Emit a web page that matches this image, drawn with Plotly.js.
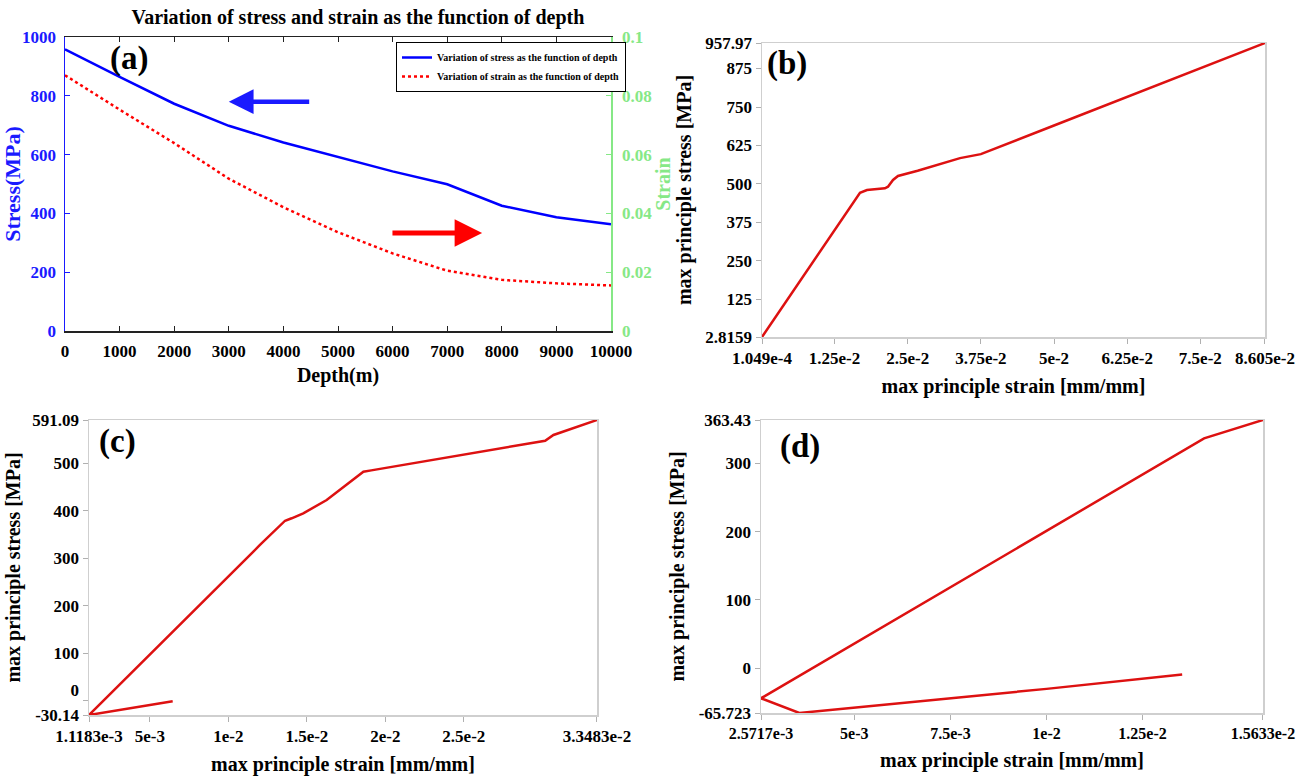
<!DOCTYPE html>
<html>
<head>
<meta charset="utf-8">
<script src="https://cdn.plot.ly/plotly-3.0.1.min.js"></script>
<style>html,body{margin:0;padding:0;background:#fff;}#chart{width:1300px;height:777px;}</style>
</head>
<body>
<div id="chart"></div>
<script>
// ---------- Panel (a): stress / strain vs depth ----------
const depth = [0, 1000, 2000, 3000, 4000, 5000, 6000, 7000, 8000, 9000, 10000];
const stressA = [957.97, 864, 773, 698, 641, 591.09, 543, 499, 426, 387, 363.43];
const strainA = [0.087, 0.0753, 0.0639, 0.0518, 0.0421, 0.0336, 0.0264, 0.0205, 0.0174, 0.0162, 0.0155];
const depthTicks = [0, 1000, 2000, 3000, 4000, 5000, 6000, 7000, 8000, 9000, 10000];
const depthTickText = ['0', '1000', '2000', '3000', '4000', '5000', '6000', '7000', '8000', '9000', '10000'];
const stressTicksA = [0, 200, 400, 600, 800, 1000];
const stressTickTextA = ['0', '200', '400', '600', '800', '1000'];
const strainTicksA = [0, 0.02, 0.04, 0.06, 0.08, 0.1];
const strainTickTextA = ['0', '0.02', '0.04', '0.06', '0.08', '0.1'];
const legendNames = ['Variation of stress as the function of depth', 'Variation of strain as the function of depth'];

// ---------- Panel (b) ----------
const strainB = [0.0001049, 0.01685, 0.01804, 0.0211, 0.02163, 0.02249, 0.02334, 0.0267, 0.03394, 0.0375, 0.05, 0.0625, 0.075, 0.08605];
const stressB = [2.8159, 471.6, 480.4, 486, 491, 513, 526, 543, 584, 597, 690, 783, 875, 957.97];
const xTickValsB = [0.0001049, 0.0125, 0.025, 0.0375, 0.05, 0.0625, 0.075, 0.08605];
const xTickTextB = ['1.049e-4', '1.25e-2', '2.5e-2', '3.75e-2', '5e-2', '6.25e-2', '7.5e-2', '8.605e-2'];
const yTickValsB = [2.8159, 125, 250, 375, 500, 625, 750, 875, 957.97];
const yTickTextB = ['2.8159', '125', '250', '375', '500', '625', '750', '875', '957.97'];

// ---------- Panel (c) ----------
const strainC = [0.00645, 0.0011183, 0.01201, 0.01361, 0.01403, 0.01477, 0.01626, 0.0186, 0.0191, 0.02858, 0.03018, 0.03071, 0.033483];
const stressC = [-1, -30.14, 327.9, 379.0, 384.1, 394.6, 422.6, 482, 485, 538.4, 547.5, 559.5, 591.09];
const xTickValsC = [0.0011183, 0.005, 0.01, 0.015, 0.02, 0.025, 0.033483];
const xTickTextC = ['1.1183e-3', '5e-3', '1e-2', '1.5e-2', '2e-2', '2.5e-2', '3.3483e-2'];
const yTickValsC = [-30.14, 0, 100, 200, 300, 400, 500, 591.09];
const yTickTextC = ['-30.14', '0<br> ', '100', '200', '300', '400', '500', '591.09'];

// ---------- Panel (d) ----------
const strainD = [0.01353, 0.0100, 0.00357, 0.0025717, 0.0100, 0.01337, 0.01401, 0.01410, 0.015633];
const stressD = [-9.5, -30.4, -65.723, -44.2, 201, 312.2, 334.1, 336.6, 363.43];
const xTickValsD = [0.0025717, 0.005, 0.0075, 0.01, 0.0125, 0.015633];
const xTickTextD = ['2.5717e-3', '5e-3', '7.5e-3', '1e-2', '1.25e-2', '1.5633e-2'];
const yTickValsD = [-65.723, 0, 100, 200, 300, 363.43];
const yTickTextD = ['-65.723', '0', '100', '200', '300', '363.43'];

const SERIF = '"Liberation Serif", "Times New Roman", Times, serif';
const RED = '#dd1111';
function bf(size, color) { return {family: SERIF, size: size, color: color || '#000', weight: 'bold'}; }

const W = 1300, H = 777;
function dx(a, b) { return [a / W, b / W]; }
function dy(top, bottom) { return [1 - bottom / H, 1 - top / H]; }
function padRange(vals) {
  const a = vals[0], b = vals[vals.length - 1], e = (b - a) * 1e-5;
  return [a - e, b + e];
}

const traces = [
  {x: depth, y: stressA, xaxis: 'x', yaxis: 'y', type: 'scatter', mode: 'lines',
   name: legendNames[0], line: {color: '#0000ff', width: 2.5}},
  {x: depth, y: strainA, xaxis: 'x', yaxis: 'y2', type: 'scatter', mode: 'lines',
   name: legendNames[1], line: {color: '#ff0000', width: 2.5, dash: 'dot'}},
  {x: strainB, y: stressB, xaxis: 'x3', yaxis: 'y3', type: 'scatter', mode: 'lines',
   showlegend: false, line: {color: RED, width: 2.5}},
  {x: strainC, y: stressC, xaxis: 'x4', yaxis: 'y4', type: 'scatter', mode: 'lines',
   showlegend: false, line: {color: RED, width: 2.5}},
  {x: strainD, y: stressD, xaxis: 'x5', yaxis: 'y5', type: 'scatter', mode: 'lines',
   showlegend: false, line: {color: RED, width: 2.5}}
];

function gx(domain, anchor, vals, text, titleText, fs) {
  return {domain: domain, anchor: anchor, range: padRange(vals),
    tickmode: 'array', tickvals: vals, ticktext: text, tickfont: bf(fs || 17),
    ticks: 'outside', ticklen: 5, tickcolor: '#b0b0b0', tickwidth: 1,
    ticklabeloverflow: 'allow',
    showline: true, linecolor: '#cfcfcf', linewidth: 1.5, mirror: true,
    showgrid: false, zeroline: false, automargin: false,
    title: {text: titleText, font: bf(20), standoff: 12}};
}
function gy(domain, anchor, vals, text, titleText, standoff) {
  return {domain: domain, anchor: anchor, range: padRange(vals),
    tickmode: 'array', tickvals: vals, ticktext: text, tickfont: bf(17),
    ticks: 'outside', ticklen: 5, tickcolor: '#b0b0b0', tickwidth: 1,
    ticklabeloverflow: 'allow',
    showline: true, linecolor: '#cfcfcf', linewidth: 1.5, mirror: true,
    showgrid: false, zeroline: false, automargin: false,
    title: {text: titleText, font: bf(20), standoff: standoff}};
}

const layout = {
  width: W, height: H,
  margin: {l: 0, r: 0, t: 0, b: 0},
  paper_bgcolor: '#fff', plot_bgcolor: '#fff',
  font: {family: SERIF},
  title: {text: 'Variation of stress and strain as the function of depth', font: bf(20),
          xref: 'paper', yref: 'paper', x: 358 / W, xanchor: 'center', y: 1 - 17 / H, yanchor: 'middle'},
  showlegend: true,
  legend: {x: 396 / W, y: 1 - 42 / H, xanchor: 'left', yanchor: 'top',
           bordercolor: '#000', borderwidth: 1, bgcolor: '#fff',
           font: bf(10), itemwidth: 30, tracegroupgap: 0},
  xaxis: {domain: dx(65, 611), anchor: 'y', range: [0, 10000],
          tickmode: 'array', tickvals: depthTicks, ticktext: depthTickText, tickfont: bf(17),
          ticks: 'inside', ticklen: 5, tickcolor: '#222', ticklabelstandoff: 4,
          showline: true, linecolor: '#222', linewidth: 1.5, mirror: 'ticks',
          showgrid: false, zeroline: false, automargin: false,
          title: {text: 'Depth(m)', font: bf(20), standoff: 8}},
  yaxis: {domain: dy(37, 331), anchor: 'x', range: [0, 1000],
          tickmode: 'array', tickvals: stressTicksA, ticktext: stressTickTextA, tickfont: bf(17, '#1a1aff'),
          ticks: 'inside', ticklen: 5, tickcolor: '#1a1aff', ticklabelstandoff: 4,
          showline: true, linecolor: '#1a1aff', linewidth: 1.5,
          showgrid: false, zeroline: false, automargin: false,
          title: {text: 'Stress(MPa)', font: bf(22, '#1a1aff'), standoff: 2}},
  yaxis2: {overlaying: 'y', side: 'right', anchor: 'x', range: [0, 0.1],
          tickmode: 'array', tickvals: strainTicksA, ticktext: strainTickTextA,
          tickfont: bf(17, '#86e886'),
          ticks: 'inside', ticklen: 5, tickcolor: '#86e886', ticklabelstandoff: 6,
          showline: true, linecolor: '#86e886', linewidth: 1.5,
          showgrid: false, zeroline: false, automargin: false,
          title: {text: 'Strain', font: bf(20, '#86e886'), standoff: 4}},
  xaxis3: gx(dx(762, 1265), 'y3', xTickValsB, xTickTextB, 'max principle strain [mm/mm]'),
  yaxis3: gy(dy(43, 337), 'x3', yTickValsB, yTickTextB, 'max principle stress [MPa]', 8),
  xaxis4: gx(dx(89, 597), 'y4', xTickValsC, xTickTextC, 'max principle strain [mm/mm]'),
  yaxis4: gy(dy(420, 715), 'x4', yTickValsC, yTickTextC, 'max principle stress [MPa]', 6),
  xaxis5: gx(dx(761, 1263), 'y5', xTickValsD, xTickTextD, 'max principle strain [mm/mm]', 16),
  yaxis5: gy(dy(420, 713), 'x5', yTickValsD, yTickTextD, 'max principle stress [MPa]', 8),
  annotations: [
    {text: '(a)', xref: 'paper', yref: 'paper', x: 129 / W, y: 1 - 58 / H, showarrow: false, font: bf(33), xanchor: 'center', yanchor: 'middle'},
    {text: '(b)', xref: 'paper', yref: 'paper', x: 787 / W, y: 1 - 63 / H, showarrow: false, font: bf(33), xanchor: 'center', yanchor: 'middle'},
    {text: '(c)', xref: 'paper', yref: 'paper', x: 117 / W, y: 1 - 441 / H, showarrow: false, font: bf(33), xanchor: 'center', yanchor: 'middle'},
    {text: '(d)', xref: 'paper', yref: 'paper', x: 800 / W, y: 1 - 446 / H, showarrow: false, font: bf(33), xanchor: 'center', yanchor: 'middle'},
    {text: '', xref: 'x', yref: 'y', axref: 'x', ayref: 'y', x: 3000, y: 780, ax: 4500, ay: 780,
     showarrow: true, arrowhead: 2, arrowsize: 1.1, arrowwidth: 4.5, arrowcolor: '#1a1aff', standoff: 0, startstandoff: 0},
    {text: '', xref: 'x', yref: 'y', axref: 'x', ayref: 'y', x: 7640, y: 333, ax: 5970, ay: 333,
     showarrow: true, arrowhead: 2, arrowsize: 1.1, arrowwidth: 5, arrowcolor: '#ff0000', standoff: 0, startstandoff: 0}
  ]
};

Plotly.newPlot('chart', traces, layout, {displayModeBar: false, staticPlot: true});
</script>
</body>
</html>
